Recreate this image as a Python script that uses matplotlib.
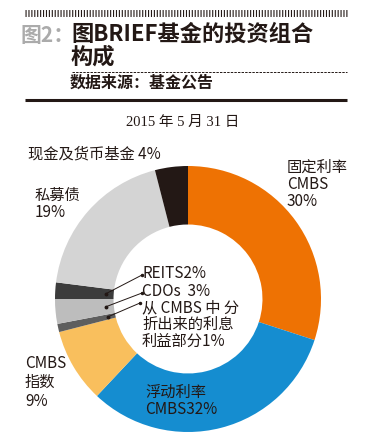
import matplotlib
matplotlib.use("Agg")
import matplotlib.pyplot as plt
import numpy as np

plt.rcParams["font.family"] = ["Noto Sans CJK SC", "DejaVu Sans"]

# 图BRIEF基金的投资组合构成 (2015-05-31), 顺时针从 12 点钟方向开始
slice_names = ["固定利率CMBS", "浮动利率CMBS", "CMBS指数", "利息利益部分",
               "CDOs", "REITS", "私募债", "现金及货币基金"]
slice_values = [30, 32, 9, 1, 3, 2, 19, 4]
slice_colors = ["#EE7203", "#158DD0", "#F9BF5D", "#5E5E5E",
                "#BDBDBD", "#3C3C3C", "#D4D4D4", "#231815"]

W, H = 368, 442
TXT = "#231815"
fig = plt.figure(figsize=(W / 100, H / 100), dpi=100)
fig.patch.set_facecolor("white")

# 圆环: 中心 (188, 299) px, 外半径 133 px
cx, cy, R = 188, 299, 133
pie_ax = fig.add_axes([(cx - R) / W, (H - cy - R) / H, 2 * R / W, 2 * R / H])
wedges, _ = pie_ax.pie(slice_values, colors=slice_colors, startangle=90,
                       counterclock=False, radius=1.0,
                       wedgeprops=dict(width=0.44, linewidth=0))
pie_ax.set_xlim(-1, 1)
pie_ax.set_ylim(-1, 1)
pie_ax.set_aspect("equal")
pie_ax.axis("off")

# 覆盖层, 像素坐标
ax = fig.add_axes([0, 0, 1, 1], zorder=3)
ax.set_xlim(0, W)
ax.set_ylim(H, 0)
ax.axis("off")

# 顶部刻度线 (细竖线)
ax.plot([25, 347], [12.5, 12.5], color=TXT, lw=5, dashes=(0.16, 0.26),
        solid_capstyle="butt")
ax.text(21, 35, "图2：", color="#ABABAB", fontsize=15, fontweight="bold",
        va="center", ha="left")
ax.text(71, 34, "图BRIEF基金的投资组合", color=TXT, fontsize=16,
        fontweight="bold", va="center", ha="left")
ax.text(71, 57, "构成", color=TXT, fontsize=16, fontweight="bold",
        va="center", ha="left")
ax.plot([72, 347], [72, 72], color=TXT, lw=0.7, dashes=(2.5, 1.2))
ax.text(70, 83, "数据来源：基金公告", color=TXT, fontsize=11.5,
        fontweight="bold", va="center", ha="left")
ax.plot([25, 347], [100, 100], color=TXT, lw=2.2, solid_capstyle="butt")
ax.text(183, 122, "2015 年 5 月 31 日", color=TXT, fontsize=10.5,
        family=["Liberation Serif", "Noto Sans CJK SC"],
        va="center", ha="center")


def block(x, y0, lines, step=17.5):
    for i, s in enumerate(lines):
        ax.text(x, y0 + i * step, s, color=TXT, fontsize=11,
                va="center", ha="left")


block(28, 154, ["现金及货币基金 4%"])
block(287, 167, ["固定利率", "CMBS", "30%"])
block(35, 195, ["私募债", "19%"])
block(25, 363, ["CMBS", "指数", "9%"], step=19.5)
block(145, 392, ["浮动利率", "CMBS32%"])
block(142, 274, ["REITS2%", "CDOs  3%"], step=17)
block(142, 308, ["从 CMBS 中 分", "折出来的利息", "利益部分1%"], step=16.5)

# 小扇区的引线: 从标签到扇区中点
cum = np.cumsum([0] + slice_values)
leaders = {5: (142, 275), 4: (142, 293), 3: (140, 303)}
for idx, (tx, ty) in leaders.items():
    mid = (cum[idx] + cum[idx + 1]) / 2 / sum(slice_values)
    ang = np.deg2rad(90 - 360 * mid)
    px = cx + 0.62 * R * np.cos(ang)
    py = cy - 0.62 * R * np.sin(ang)
    ax.plot([tx, px], [ty, py], color=TXT, lw=0.7)
    ax.plot([px], [py], "o", color=TXT, ms=1.8)
    ax.plot([tx], [ty], "o", color=TXT, ms=1.5)

fig.savefig("out.png", dpi=100, facecolor="white")
